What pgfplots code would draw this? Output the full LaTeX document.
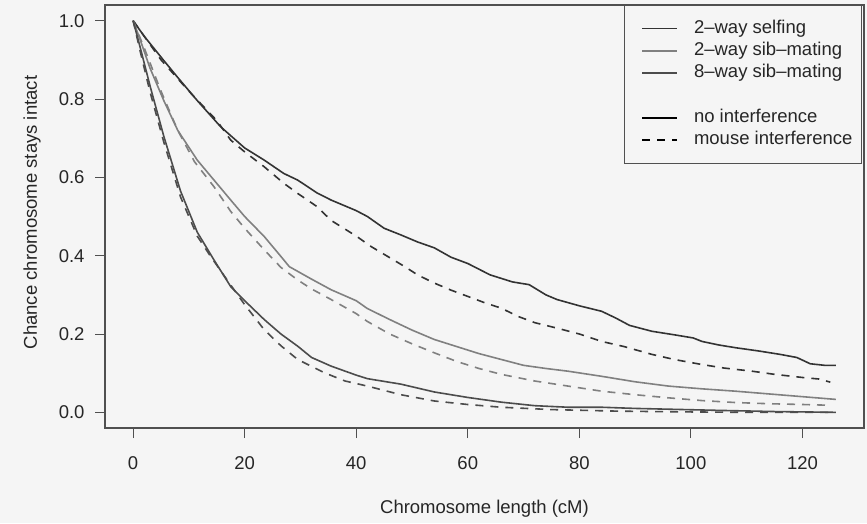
\documentclass[border=0pt]{standalone}
\usepackage{pgfplots}
\pgfplotsset{compat=1.18}
\usepackage{fontspec}
\setmainfont{Liberation Sans}
\definecolor{bg}{HTML}{F5F5F5}
\definecolor{frame}{HTML}{505050}
\definecolor{cself}{HTML}{333333}
\definecolor{csib}{HTML}{808080}
\definecolor{ceight}{HTML}{4C4C4C}
\begin{document}
\begin{tikzpicture}
\fill[bg] (0,0) rectangle (867pt,523pt);
\begin{axis}[
  at={(105pt,95pt)}, anchor=south west,
  width=759pt, height=423pt, scale only axis,
  xmin=-5.04, xmax=131.04, ymin=-0.04, ymax=1.04,
  axis background/.style={fill=bg},
  axis line style={draw=frame, line width=1.2pt},
  xtick={0,20,...,120},
  ytick={0,0.2,...,1.0},
  tick align=outside, major tick length=10pt,
  tick style={draw=frame, line width=1pt},
  xtick pos=bottom, ytick pos=left,
  /pgf/number format/assume math mode=true,
  ticklabel style={font=\fontsize{18.5}{22}\selectfont, text=black!85},
  xticklabel style={yshift=-15pt},
  yticklabel style={xshift=-7pt, /pgf/number format/fixed, /pgf/number format/fixed zerofill, /pgf/number format/precision=1},
  xlabel={Chromosome length (cM)},
  ylabel={Chance chromosome stays intact},
  label style={font=\fontsize{18.5}{22}\selectfont, text=black!85},
  xlabel style={at={(axis description cs:0.5,0)}, anchor=base, yshift=-85pt},
  ylabel style={at={([xshift=-68pt,yshift=4pt]axis description cs:0,0.5)}, anchor=base},
  legend cell align=left,
  legend style={
    at={(rel axis cs:1,1)}, anchor=north east, xshift=-2pt,
    draw=frame, line width=1.2pt, fill=bg,
    font=\fontsize{18.5}{22}\selectfont, text=black!85,
    inner xsep=9pt, inner ysep=14.5pt,
    row sep=5.3pt,
    nodes={inner sep=0pt, text height=13pt, text depth=4pt},
    /tikz/every odd column/.append style={column sep=16pt},
  },
  legend image code/.code={\path (-8pt,0pt); \draw[line width=1.6pt] (0pt,0pt) -- (35pt,0pt);},
]
\addlegendimage{cself, solid}\addlegendentry{2–way selfing}
\addlegendimage{csib, solid}\addlegendentry{2–way sib–mating}
\addlegendimage{ceight, solid}\addlegendentry{8–way sib–mating}
\addlegendimage{empty legend}\addlegendentry{}
\addlegendimage{black, solid}\addlegendentry{no interference}
\addlegendimage{black, dash pattern=on 8pt off 7pt}\addlegendentry{mouse interference}

% 2-way selfing, no interference
\addplot[forget plot, cself, line width=1.6pt] coordinates {
(0,1.0) (2,0.96) (5.4,0.90) (8,0.855) (11.5,0.796) (15.7,0.729) (20,0.675) (23.5,0.644)
(27,0.61) (29.5,0.593) (33,0.56) (35.5,0.542) (40,0.515) (42,0.50) (45,0.47) (48,0.453)
(51,0.435) (54,0.42) (57,0.396) (60,0.38) (64,0.351) (68,0.333) (71,0.326) (74,0.30)
(76,0.288) (80,0.272) (84,0.258) (86.5,0.241) (89,0.222) (93,0.207) (97,0.198)
(100.4,0.19) (102,0.181) (105,0.172) (108,0.165) (112,0.157) (116,0.148) (119,0.14)
(121.4,0.124) (124,0.12) (126,0.12)};
% 2-way selfing, mouse interference
\addplot[forget plot, cself, line width=1.6pt, dash pattern=on 8pt off 7pt] coordinates {
(0,1.0) (5,0.90) (10,0.82) (15,0.745) (17.5,0.695) (20,0.665) (23.5,0.627) (27,0.585)
(29.5,0.559) (33,0.525) (35.5,0.49) (40,0.45) (42.7,0.423) (46,0.395) (48.7,0.372)
(51,0.351) (54,0.33) (57,0.312) (60,0.296) (63,0.28) (66,0.266) (69,0.245) (72,0.229)
(76,0.215) (80,0.2) (84,0.181) (88,0.168) (93,0.148) (97,0.135) (102,0.122) (106,0.113)
(111,0.105) (115,0.097) (120,0.089) (123,0.085) (125,0.077)};
% 2-way sib-mating, no interference
\addplot[forget plot, csib, line width=1.6pt] coordinates {
(0,1.0) (1.3,0.95) (3,0.88) (5.5,0.796) (8,0.72) (11.5,0.644) (14.5,0.593) (17.5,0.542)
(20,0.50) (23.5,0.449) (26.5,0.398) (28,0.372) (29.5,0.36) (32,0.34) (35.5,0.313)
(40,0.285) (42,0.265) (46,0.237) (50,0.21) (54,0.186) (58,0.168) (62,0.15) (66,0.135)
(70,0.12) (74,0.112) (78,0.105) (84,0.092) (90,0.078) (96,0.067) (102,0.06) (108,0.054)
(114,0.047) (120,0.04) (126,0.033)};
% 2-way sib-mating, mouse interference
\addplot[forget plot, csib, line width=1.6pt, dash pattern=on 8pt off 7pt] coordinates {
(0,1.0) (2,0.93) (5,0.82) (8,0.72) (11,0.64) (14.5,0.576) (17.5,0.513) (20,0.47)
(23.5,0.415) (26.5,0.37) (29.5,0.338) (32,0.315) (35.5,0.288) (40,0.252) (42,0.232)
(46,0.20) (50,0.175) (54,0.152) (58,0.13) (62,0.112) (66,0.097) (72,0.08) (78,0.067)
(84,0.054) (90,0.045) (96,0.037) (102,0.03) (108,0.025) (114,0.022) (120,0.02) (125,0.018)};
% 8-way sib-mating, no interference
\addplot[forget plot, ceight, line width=1.6pt] coordinates {
(0,1.0) (1.3,0.93) (3.1,0.83) (5.5,0.705) (8.5,0.565) (11.5,0.46) (14.5,0.389)
(17.5,0.321) (20,0.285) (23.5,0.237) (26.5,0.20) (29.5,0.169) (32,0.14) (35.5,0.118)
(40,0.095) (42,0.086) (48,0.072) (54,0.052) (60,0.038) (66,0.026) (72,0.017) (78,0.013)
(84,0.013) (90,0.01) (96,0.008) (105,0.005) (115,0.002) (126,0.0)};
% 8-way sib-mating, mouse interference
\addplot[forget plot, ceight, line width=1.6pt, dash pattern=on 8pt off 7pt] coordinates {
(0,1.0) (1.3,0.92) (3,0.82) (5.5,0.69) (8.5,0.55) (11.5,0.45) (13.9,0.398) (17.5,0.325)
(20,0.275) (23.5,0.211) (26.5,0.17) (29.5,0.135) (34.3,0.101) (38,0.08) (42,0.067)
(48,0.045) (54,0.029) (60,0.02) (66,0.013) (75,0.007) (87,0.003) (100,0.001) (110,0.0)
(125,0.0)};
\end{axis}
\end{tikzpicture}
\end{document}
